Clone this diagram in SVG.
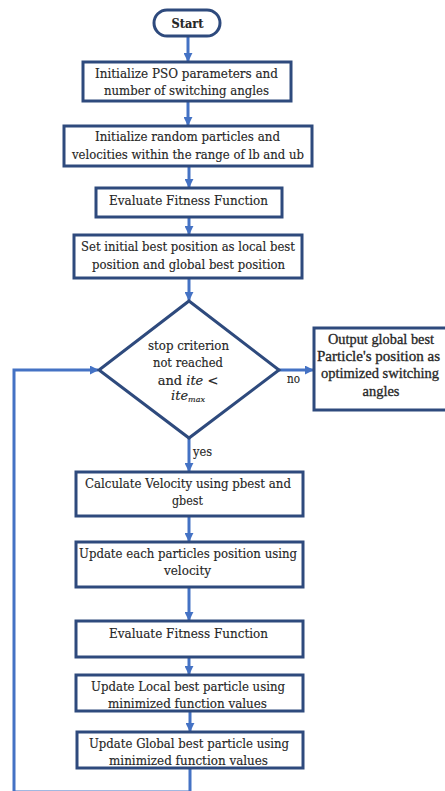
<svg xmlns="http://www.w3.org/2000/svg" width="445" height="791" viewBox="0 0 445 791">
<style>
.box{fill:#fff;stroke:#2E4A7D;stroke-width:3}
.c{fill:none;stroke:#4472C4;stroke-width:3}
text{font-family:"DejaVu Serif","Liberation Serif",serif;font-size:13px;fill:#262626;stroke:#262626;stroke-width:0.15;text-anchor:middle}
.lbl{text-anchor:start}
.it{font-style:italic}
.ls{font-family:"Liberation Serif","DejaVu Serif",serif;font-size:14px;stroke-width:0.3}
</style>
<defs>
<marker id="ah" viewBox="0 0 10 10" refX="9" refY="5" markerWidth="3" markerHeight="3" orient="auto" markerUnits="strokeWidth">
<path d="M0,0 L10,5 L0,10 z" fill="#4472C4"/>
</marker>
</defs>
<rect width="445" height="791" fill="#fff"/>
<g id="connectors">
<line class="c" x1="188" y1="36" x2="188" y2="61" marker-end="url(#ah)"/>
<line class="c" x1="188" y1="101" x2="188" y2="125" marker-end="url(#ah)"/>
<line class="c" x1="189" y1="166" x2="189" y2="187" marker-end="url(#ah)"/>
<line class="c" x1="189" y1="217" x2="189" y2="234" marker-end="url(#ah)"/>
<line class="c" x1="189" y1="278" x2="189" y2="300" marker-end="url(#ah)"/>
<line class="c" x1="279" y1="370" x2="313" y2="370" marker-end="url(#ah)"/>
<line class="c" x1="189" y1="438" x2="189" y2="471" marker-end="url(#ah)"/>
<line class="c" x1="189" y1="516" x2="189" y2="541" marker-end="url(#ah)"/>
<line class="c" x1="189" y1="587" x2="189" y2="620" marker-end="url(#ah)"/>
<line class="c" x1="189" y1="657" x2="189" y2="674" marker-end="url(#ah)"/>
<line class="c" x1="190" y1="711" x2="190" y2="731" marker-end="url(#ah)"/>
<polyline class="c" points="190,768 190,792 14,792 14,370 98,370" marker-end="url(#ah)"/>
<text class="lbl" x="287" y="383" textLength="13" lengthAdjust="spacingAndGlyphs">no</text>
<text class="lbl" x="193" y="456" textLength="19" lengthAdjust="spacingAndGlyphs">yes</text>
</g>
<g id="start">
<rect class="box" x="154" y="10" width="66" height="26" rx="13"/>
<text x="187.5" y="28" font-weight="bold" textLength="32" lengthAdjust="spacingAndGlyphs">Start</text>
</g>
<g id="init-pso">
<rect class="box" x="83" y="62" width="208" height="39"/>
<text x="186.5" y="78" textLength="183" lengthAdjust="spacingAndGlyphs">Initialize  PSO parameters and</text>
<text x="186.5" y="95" textLength="165" lengthAdjust="spacingAndGlyphs">number of switching angles</text>
</g>
<g id="init-particles">
<rect class="box" x="64" y="126" width="248" height="40"/>
<text x="187.5" y="141" textLength="185" lengthAdjust="spacingAndGlyphs">Initialize  random particles and</text>
<text x="188" y="159" textLength="232" lengthAdjust="spacingAndGlyphs">velocities within the range of lb and ub</text>
</g>
<g id="eval1">
<rect class="box" x="96" y="188" width="186" height="29"/>
<text x="188.5" y="205" textLength="159" lengthAdjust="spacingAndGlyphs">Evaluate  Fitness Function</text>
</g>
<g id="set-best">
<rect class="box" x="74" y="235" width="228" height="43"/>
<text x="188" y="251" textLength="214" lengthAdjust="spacingAndGlyphs">Set initial best position as local best</text>
<text x="188.5" y="269" textLength="193" lengthAdjust="spacingAndGlyphs">position and global best position</text>
</g>
<g id="decision">
<polygon class="box" points="189,301 279,370 189,438 99,370"/>
<text x="188.5" y="350" textLength="81" lengthAdjust="spacingAndGlyphs">stop criterion</text>
<text x="188" y="367" textLength="70" lengthAdjust="spacingAndGlyphs">not reached</text>
<text x="188" y="385" font-size="12"><tspan>and  </tspan><tspan class="it">ite</tspan><tspan> &lt;</tspan></text>
<text x="188" y="400" font-size="10"><tspan class="it">ite</tspan><tspan class="it" font-size="8" dy="2">max</tspan></text>
</g>
<g id="output">
<rect class="box" x="314" y="328" width="140" height="82"/>
<text class="ls" x="381" y="344" textLength="106" lengthAdjust="spacingAndGlyphs">Output global best</text>
<text class="ls" x="378.5" y="361" textLength="123" lengthAdjust="spacingAndGlyphs">Particle's position as</text>
<text class="ls" x="380" y="378" textLength="118" lengthAdjust="spacingAndGlyphs">optimized switching</text>
<text class="ls" x="381" y="396" textLength="37" lengthAdjust="spacingAndGlyphs">angles</text>
</g>
<g id="calc-velocity">
<rect class="box" x="76" y="472" width="227" height="44"/>
<text x="188" y="488" textLength="206" lengthAdjust="spacingAndGlyphs">Calculate  Velocity using pbest and</text>
<text x="187.5" y="505" textLength="31" lengthAdjust="spacingAndGlyphs">gbest</text>
</g>
<g id="update-position">
<rect class="box" x="76" y="542" width="227" height="45"/>
<text x="188" y="558" textLength="218" lengthAdjust="spacingAndGlyphs">Update each particles position using</text>
<text x="187.5" y="575" textLength="47" lengthAdjust="spacingAndGlyphs">velocity</text>
</g>
<g id="eval2">
<rect class="box" x="76" y="621" width="227" height="36"/>
<text x="188.5" y="638" textLength="159" lengthAdjust="spacingAndGlyphs">Evaluate  Fitness Function</text>
</g>
<g id="update-local">
<rect class="box" x="76" y="675" width="227" height="36"/>
<text x="188" y="691" textLength="194" lengthAdjust="spacingAndGlyphs">Update Local best particle using</text>
<text x="187.5" y="708" textLength="159" lengthAdjust="spacingAndGlyphs">minimized function values</text>
</g>
<g id="update-global">
<rect class="box" x="77" y="732" width="226" height="36"/>
<text x="189" y="748" textLength="200" lengthAdjust="spacingAndGlyphs">Update Global best particle using</text>
<text x="188.5" y="765" textLength="159" lengthAdjust="spacingAndGlyphs">minimized function values</text>
</g>
</svg>
